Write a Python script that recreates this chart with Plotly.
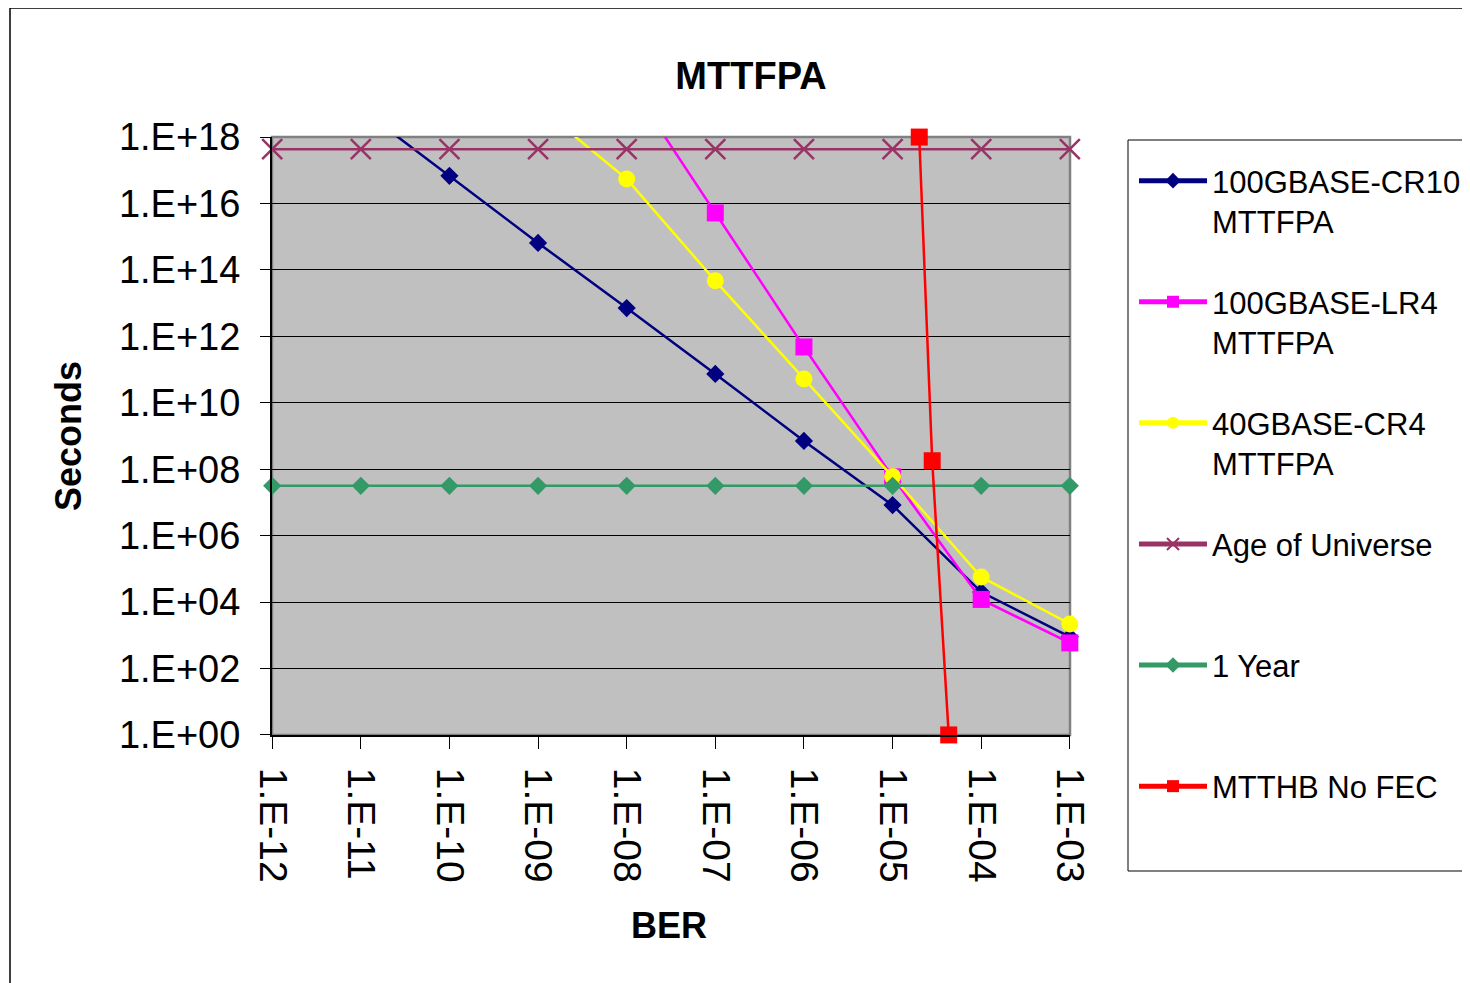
import plotly.graph_objects as go
import numpy as np

# ---- data ----
ber = [1e-12, 1e-11, 1e-10, 1e-09, 1e-08, 1e-07, 1e-06, 1e-05, 1e-04, 1e-03]
ber_ticktext = ["1.E-12", "1.E-11", "1.E-10", "1.E-09", "1.E-08",
                "1.E-07", "1.E-06", "1.E-05", "1.E-04", "1.E-03"]

cr10_ber = [1e-11, 1e-10, 1e-09, 1e-08, 1e-07, 1e-06, 1e-05, 1e-04, 1e-03]
cr10_mttfpa = [7.0e18, 6.8e16, 6.5e14, 7.1e12, 7.4e10, 7.1e8, 8.3e6, 2.0e4, 9.0e2]

lr4_ber = [1e-08, 1e-07, 1e-06, 1e-05, 1e-04, 1e-03]
lr4_mttfpa = [5.6e19, 5.2e15, 4.8e11, 5.9e7, 1.2e4, 5.9e2]

cr4_ber = [1e-09, 1e-08, 1e-07, 1e-06, 1e-05, 1e-04, 1e-03]
cr4_mttfpa = [8.5e18, 5.5e16, 4.7e13, 5.2e10, 6.0e7, 5.7e4, 2.2e3]

age_of_universe = [4.32e17] * 10
one_year = [3.1536e7] * 10

nofec_ber = [2.0e-5, 2.8e-5, 4.3e-5]
nofec_mtthb = [1e18, 1.8e8, 1.0]

seconds_tickvals = [1e0, 1e2, 1e4, 1e6, 1e8, 1e10, 1e12, 1e14, 1e16, 1e18]
seconds_ticktext = ["1.E+00", "1.E+02", "1.E+04", "1.E+06", "1.E+08",
                    "1.E+10", "1.E+12", "1.E+14", "1.E+16", "1.E+18"]

YMAX_LOG = 18
FONT = "Arial, Liberation Sans, sans-serif"
LW = 2.5


def sizes(vals, s):
    # hide markers that fall above the visible range
    return [s if np.log10(v) <= YMAX_LOG + 0.01 else 0 for v in vals]


def mk(symbol, size, color):
    return dict(symbol=symbol, size=size, color=color, opacity=1,
                line=dict(width=0, color=color))


fig = go.Figure()

fig.add_trace(go.Scatter(
    x=cr10_ber, y=cr10_mttfpa, mode="lines+markers",
    name="100GBASE-CR10<br>MTTFPA",
    line=dict(color="#000080", width=LW),
    marker=mk("diamond", sizes(cr10_mttfpa, 14), "#000080"),
    cliponaxis=False, legendgroup="a"))

fig.add_trace(go.Scatter(
    x=lr4_ber, y=lr4_mttfpa, mode="lines+markers",
    name="100GBASE-LR4<br>MTTFPA",
    line=dict(color="#FF00FF", width=LW),
    marker=mk("square", sizes(lr4_mttfpa, 17), "#FF00FF"),
    cliponaxis=False, legendgroup="b"))

fig.add_trace(go.Scatter(
    x=cr4_ber, y=cr4_mttfpa, mode="lines+markers",
    name="40GBASE-CR4<br>MTTFPA",
    line=dict(color="#FFFF00", width=LW),
    marker=mk("circle", sizes(cr4_mttfpa, 17), "#FFFF00"),
    cliponaxis=False, legendgroup="c"))

fig.add_trace(go.Scatter(
    x=ber, y=age_of_universe, mode="lines+markers",
    name="Age of Universe<br> ",
    line=dict(color="#993366", width=LW),
    marker=dict(symbol="x-thin", size=20, color="#993366", opacity=1,
                line=dict(color="#993366", width=2.5)),
    cliponaxis=False, legendgroup="d"))

fig.add_trace(go.Scatter(
    x=ber, y=one_year, mode="lines+markers",
    name="1 Year<br> ",
    line=dict(color="#339966", width=LW),
    marker=mk("diamond", 14, "#339966"),
    cliponaxis=False, legendgroup="e"))

fig.add_trace(go.Scatter(
    x=nofec_ber, y=nofec_mtthb, mode="lines+markers",
    name="MTTHB No FEC<br> ",
    line=dict(color="#FF0000", width=LW),
    marker=mk("square", 17, "#FF0000"),
    cliponaxis=False, legendgroup="f"))

# page geometry (figure div sits at an 8px body offset)
OFF = 8
W, H = 1470 - OFF, 983 - OFF
PL, PR, PT, PB = 272, 1070, 137, 735          # plot area in page px
L, R, T, B = PL - OFF, OFF + W - PR, PT - OFF, OFF + H - PB
pw, ph = PR - PL, PB - PT


def px_x(p):
    return (p - PL) / pw


def px_y(p):
    return (PB - p) / ph


EPS = 0.002

fig.update_layout(
    width=W, height=H,
    margin=dict(l=L, r=R, t=T, b=B, autoexpand=False),
    paper_bgcolor="white",
    plot_bgcolor="#C0C0C0",
    font=dict(family=FONT, color="black", size=36),
    showlegend=True,
    legend=dict(
        x=px_x(1134), y=px_y(154), xanchor="left", yanchor="top",
        borderwidth=0, bgcolor="rgba(0,0,0,0)",
        font=dict(family=FONT, size=31, color="black"),
        valign="top", itemwidth=68, tracegroupgap=37.5, itemsizing="constant",
        maxheight=900,
    ),
    title=dict(text="<b>MTTFPA</b>", x=(751 - OFF) / W, xanchor="center",
               y=1 - (76 - OFF) / H, yanchor="middle",
               font=dict(family=FONT, size=38, color="black")),
    xaxis=dict(
        type="log", range=[-12 - EPS, -3 + EPS],
        tickvals=ber, ticktext=ber_ticktext, tickangle=90,
        ticks="outside", ticklen=12, tickcolor="black", tickwidth=1,
        ticklabelstandoff=11,
        showline=True, linecolor="black", linewidth=2,
        showgrid=False, zeroline=False,
        tickfont=dict(family=FONT, size=39, color="black"),
    ),
    yaxis=dict(
        type="log", range=[0 - EPS, YMAX_LOG + EPS],
        tickvals=seconds_tickvals, ticktext=seconds_ticktext,
        ticks="outside", ticklen=10, tickcolor="black", tickwidth=1,
        ticklabelstandoff=12,
        showline=True, linecolor="black", linewidth=2,
        showgrid=True, gridcolor="black", gridwidth=1, zeroline=False,
        tickfont=dict(family=FONT, size=38, color="black"),
    ),
    shapes=[
        dict(type="rect", xref="paper", yref="paper", x0=0, x1=1, y0=0, y1=1,
             line=dict(color="#808080", width=2.5), layer="below"),
        dict(type="rect", xref="paper", yref="paper",
             x0=px_x(10), x1=px_x(1520), y0=px_y(8), y1=px_y(1010),
             line=dict(color="black", width=1.5)),
        dict(type="rect", xref="paper", yref="paper",
             x0=px_x(1128), x1=px_x(1520), y0=px_y(140), y1=px_y(871),
             line=dict(color="black", width=1)),
    ],
    annotations=[
        dict(text="<b>Seconds</b>", x=px_x(68), y=0.5, xref="paper", yref="paper",
             textangle=-90, showarrow=False, xanchor="center", yanchor="middle",
             font=dict(family=FONT, size=36, color="black")),
        dict(text="<b>BER</b>", x=px_x(669), y=px_y(925), xref="paper", yref="paper",
             showarrow=False, xanchor="center", yanchor="middle",
             font=dict(family=FONT, size=36, color="black")),
    ],
)

fig.write_html("out.html")
